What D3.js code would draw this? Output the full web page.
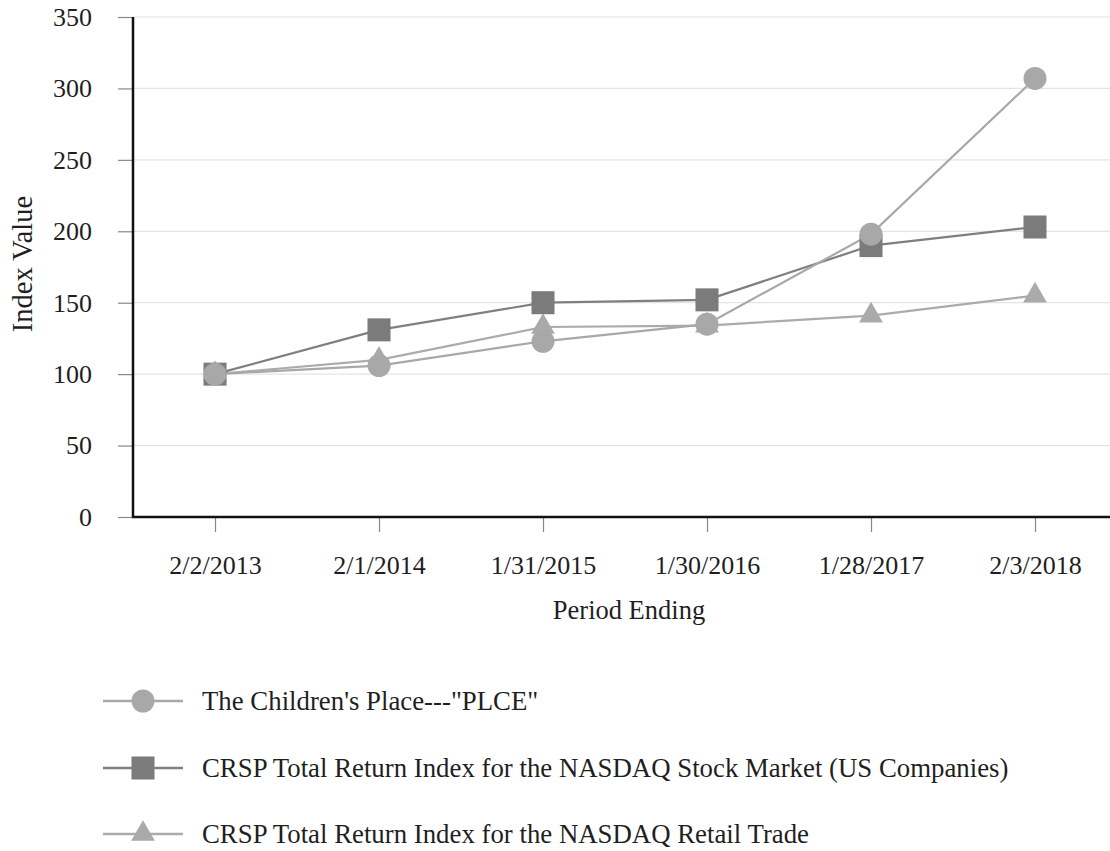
<!DOCTYPE html>
<html><head><meta charset="utf-8">
<script src="https://cdn.jsdelivr.net/npm/d3@7"></script>
<style>body{margin:0;background:#fff;} text{font-family:"Liberation Serif","Times New Roman",serif;fill:#1f1f1f;}</style>
</head><body>
<svg id="chart" width="1110" height="851"></svg>
<script>
const categories = ["2/2/2013","2/1/2014","1/31/2015","1/30/2016","1/28/2017","2/3/2018"];
const plce = [100, 106, 123, 135, 198, 307];
const nasdaq = [100, 131, 150, 152, 190, 203];
const retail = [100, 110, 133, 134, 141, 155];
const seriesNames = ["The Children's Place---\"PLCE\"", "CRSP Total Return Index for the NASDAQ Stock Market (US Companies)", "CRSP Total Return Index for the NASDAQ Retail Trade"];
const yTicks = [0,50,100,150,200,250,300,350];

const series = [
  {name: seriesNames[0], values: plce, color: "#a8a8a8", line: "#a8a8a8", shape: d3.symbolCircle, size: 415},
  {name: seriesNames[1], values: nasdaq, color: "#7b7b7b", line: "#7f7f7f", shape: d3.symbolSquare, size: 530},
  {name: seriesNames[2], values: retail, color: "#aaaaaa", line: "#ababab", shape: d3.symbolTriangle, size: 245}
];

const svg = d3.select("#chart");
const pLeft = 133, pRight = 1117, pTop = 17, pBottom = 517;
const x = d3.scalePoint().domain(categories).range([pLeft, pRight]).padding(0.5);
const y = d3.scaleLinear().domain([0, 350]).range([pBottom, pTop]);

// grid
svg.append("g").selectAll("line").data(yTicks.filter(d=>d>0)).join("line")
  .attr("x1", pLeft).attr("x2", 1110).attr("y1", d=>y(d)).attr("y2", d=>y(d))
  .attr("stroke", "#e4e4e4").attr("stroke-width", 1.2);

// y axis
const yAxis = d3.axisLeft(y).tickValues(yTicks).tickSize(15).tickPadding(26);
const gy = svg.append("g").attr("transform", `translate(${pLeft},0)`).call(yAxis);
gy.select(".domain").remove();
gy.selectAll(".tick line").attr("stroke", "#888").attr("stroke-width", 1.2);
gy.selectAll(".tick text").style("font-size", "26px").attr("font-family", "Liberation Serif").attr("fill", "#1f1f1f");

// x axis
const xAxis = d3.axisBottom(x).tickSize(15).tickPadding(24);
const gx = svg.append("g").attr("transform", `translate(0,${pBottom})`).call(xAxis);
gx.select(".domain").remove();
gx.selectAll(".tick line").attr("stroke", "#888").attr("stroke-width", 1.2);
gx.selectAll(".tick text").style("font-size", "26px").attr("font-family", "Liberation Serif").attr("fill", "#1f1f1f");

// axis lines
svg.append("line").attr("x1", pLeft).attr("x2", pLeft).attr("y1", pTop).attr("y2", pBottom+1).attr("stroke", "#111").attr("stroke-width", 2.5);
svg.append("line").attr("x1", pLeft-1).attr("x2", 1110).attr("y1", pBottom).attr("y2", pBottom).attr("stroke", "#111").attr("stroke-width", 2.5);

// axis titles
svg.append("text").attr("transform", "translate(32,264) rotate(-90)").attr("text-anchor", "middle")
  .style("font-size", "28.5px").text("Index Value");
svg.append("text").attr("x", 629).attr("y", 619).attr("text-anchor", "middle")
  .style("font-size", "26.5px").text("Period Ending");

// lines & markers
const line = d3.line().x((d,i)=>x(categories[i])).y(d=>y(d));
const order = [2, 1, 0];
order.forEach(k => {
  const s = series[k];
  svg.append("path").datum(s.values).attr("d", line).attr("fill", "none")
    .attr("stroke", s.line).attr("stroke-width", 2.2);
});
order.forEach(k => {
  const s = series[k];
  svg.append("g").selectAll("path").data(s.values).join("path")
    .attr("transform", (d,i)=>`translate(${x(categories[i])},${y(d)})`)
    .attr("d", d3.symbol().type(s.shape).size(s.size))
    .attr("fill", s.color);
});

// legend
const legendY = [701, 768, 834];
series.forEach((s, i) => {
  const g = svg.append("g").attr("transform", `translate(0,${legendY[i]})`);
  g.append("line").attr("x1", 103).attr("x2", 183).attr("y1", 0).attr("y2", 0).attr("stroke", s.line).attr("stroke-width", 2.5);
  g.append("path").attr("transform", "translate(143,0)").attr("d", d3.symbol().type(s.shape).size(s.size)).attr("fill", s.color);
  g.append("text").attr("x", 202).attr("y", 9).style("font-size", "26.8px").text(s.name);
});
</script>
</body></html>
